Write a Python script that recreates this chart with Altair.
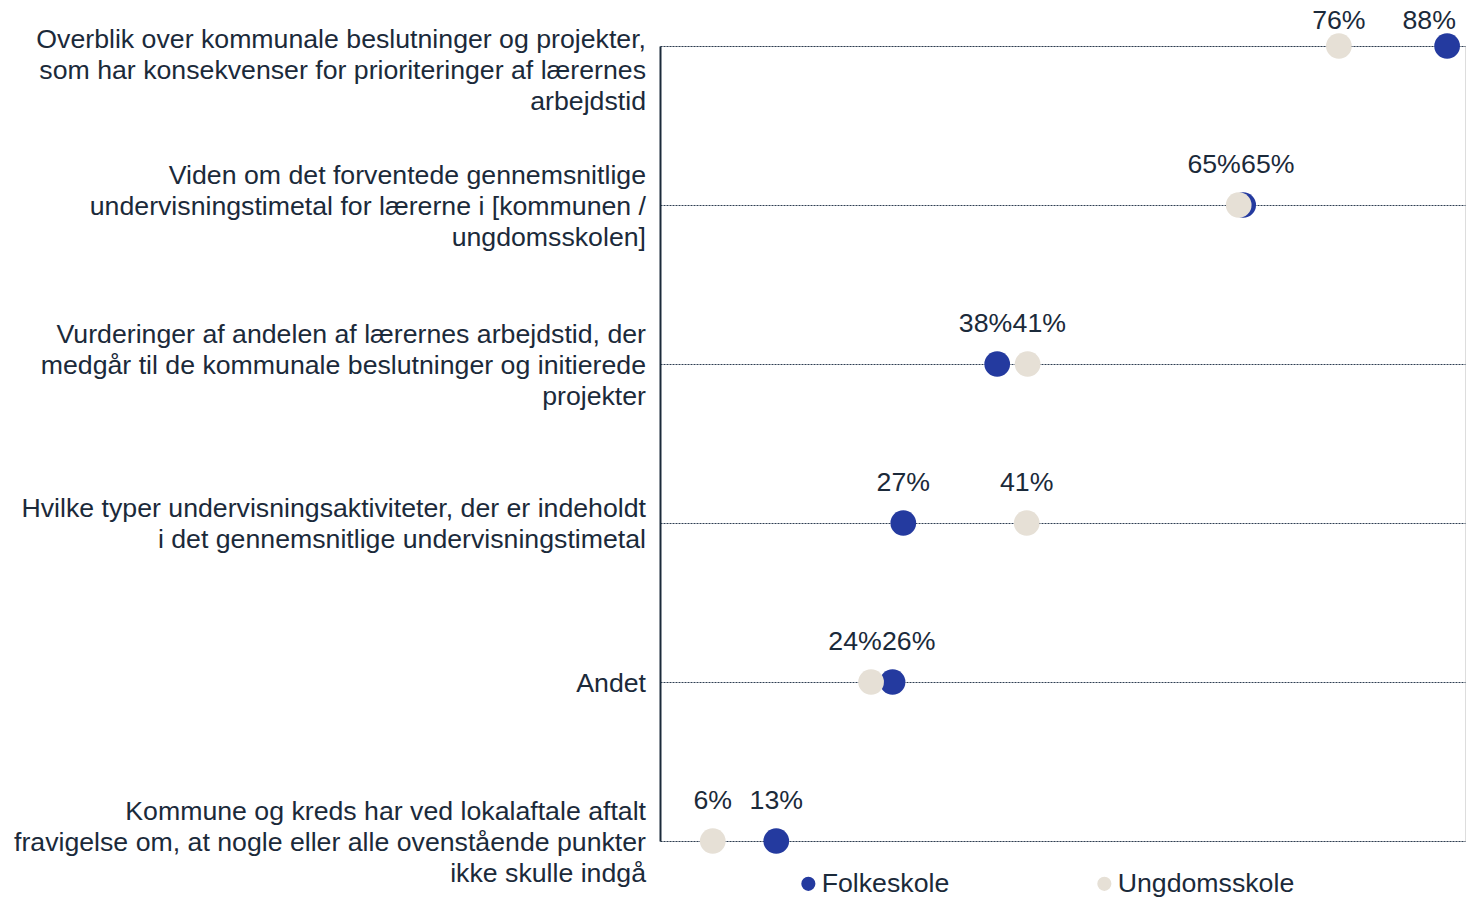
import altair as alt
import pandas as pd

categories = [
    "Overblik over kommunale beslutninger og projekter,\nsom har konsekvenser for prioriteringer af lærernes\narbejdstid",
    "Viden om det forventede gennemsnitlige\nundervisningstimetal for lærerne i [kommunen /\nungdomsskolen]",
    "Vurderinger af andelen af lærernes arbejdstid, der\nmedgår til de kommunale beslutninger og initierede\nprojekter",
    "Hvilke typer undervisningsaktiviteter, der er indeholdt\ni det gennemsnitlige undervisningstimetal",
    "Andet",
    "Kommune og kreds har ved lokalaftale aftalt\nfravigelse om, at nogle eller alle ovenstående punkter\nikke skulle indgå",
]
series_names = ["Folkeskole", "Ungdomsskole"]
folkeskole = [88.0, 65.2, 37.7, 27.2, 26.0, 13.0]
ungdomsskole = [75.9, 64.7, 41.1, 41.0, 23.6, 5.9]

BLUE = "#243a9f"
BEIGE = "#e6e0d6"
TEXT = "#1b2a3a"
FONT = "Liberation Sans"
FS = 26.7
X_MAX = 90

rows = []
for i in range(len(categories)):
    a, b = folkeskole[i], ungdomsskole[i]
    close = abs(a - b) < 6
    mid = (a + b) / 2
    for name, v, other in ((series_names[0], a, b), (series_names[1], b, a)):
        if close:
            lx = mid - 3 if v <= other else mid + 3
        else:
            lx = v
        lx = min(lx, X_MAX - 4)
        rows.append({"row": i, "series": name, "value": v, "label_x": lx,
                     "label": f"{round(v)}%"})
df = pd.DataFrame(rows)
cat_df = pd.DataFrame({"row": list(range(len(categories))), "cat": categories})

y_enc = alt.Y("row:O", scale=alt.Scale(padding=0),
              axis=alt.Axis(labels=False, ticks=False, title=None, domain=True,
                            domainColor=TEXT, domainWidth=2, grid=True,
                            gridColor="#2e3e52", gridDash=[2, 1], gridWidth=1))
x_scale = alt.Scale(domain=[0, X_MAX], nice=False, zero=True)

points = alt.Chart(df).mark_circle(size=660, opacity=1).encode(
    x=alt.X("value:Q", scale=x_scale, axis=None),
    y=y_enc,
    color=alt.Color("series:N", scale=alt.Scale(domain=series_names, range=[BLUE, BEIGE]),
                    legend=alt.Legend(orient="none", legendX=135, legendY=824,
                                      direction="horizontal", title=None,
                                      labelFontSize=FS, labelColor=TEXT, labelFont=FONT,
                                      labelLimit=400,
                                      symbolSize=200, symbolType="circle",
                                      symbolStrokeWidth=0, columnPadding=141,
                                      labelOffset=0)),
    order=alt.Order("series:N", sort="ascending"),
)

vlabels = alt.Chart(df).transform_filter("datum.row > 0").mark_text(
    dy=-40, fontSize=FS, font=FONT, color=TEXT, baseline="middle").encode(
    x=alt.X("label_x:Q", scale=x_scale), y=alt.Y("row:O"), text="label:N")
vlabels0 = alt.Chart(df).transform_filter("datum.row == 0").mark_text(
    dy=-25, fontSize=FS, font=FONT, color=TEXT, baseline="middle").encode(
    x=alt.X("label_x:Q", scale=x_scale), y=alt.Y("row:O"), text="label:N")


def cat_layer(expr, dy):
    return alt.Chart(cat_df).transform_calculate(
        nlines="length(split(datum.cat, '\\n'))"
    ).transform_filter(expr).mark_text(
        align="right", baseline="middle", dy=dy, fontSize=FS, font=FONT, color=TEXT,
        lineBreak="\n", lineHeight=31).encode(
        x=alt.value(-14), y=alt.Y("row:O"), text="cat:N")


c0 = cat_layer("datum.row == 0", -6)
c3 = cat_layer("datum.row > 0 && datum.nlines == 3", -29)
c2 = cat_layer("datum.row > 0 && datum.nlines == 2", -14)
c1 = cat_layer("datum.row > 0 && datum.nlines == 1", 2)

chart = alt.layer(points, vlabels, vlabels0, c0, c3, c2, c1).properties(
    width=805, height=795,
    autosize=alt.AutoSizeParams(type="none"),
    padding={"left": 652, "top": 38, "right": 5, "bottom": 56},
).configure_view(stroke=None).configure(font=FONT)

chart.save("out.html", embed_options={"renderer": "svg", "actions": False})
